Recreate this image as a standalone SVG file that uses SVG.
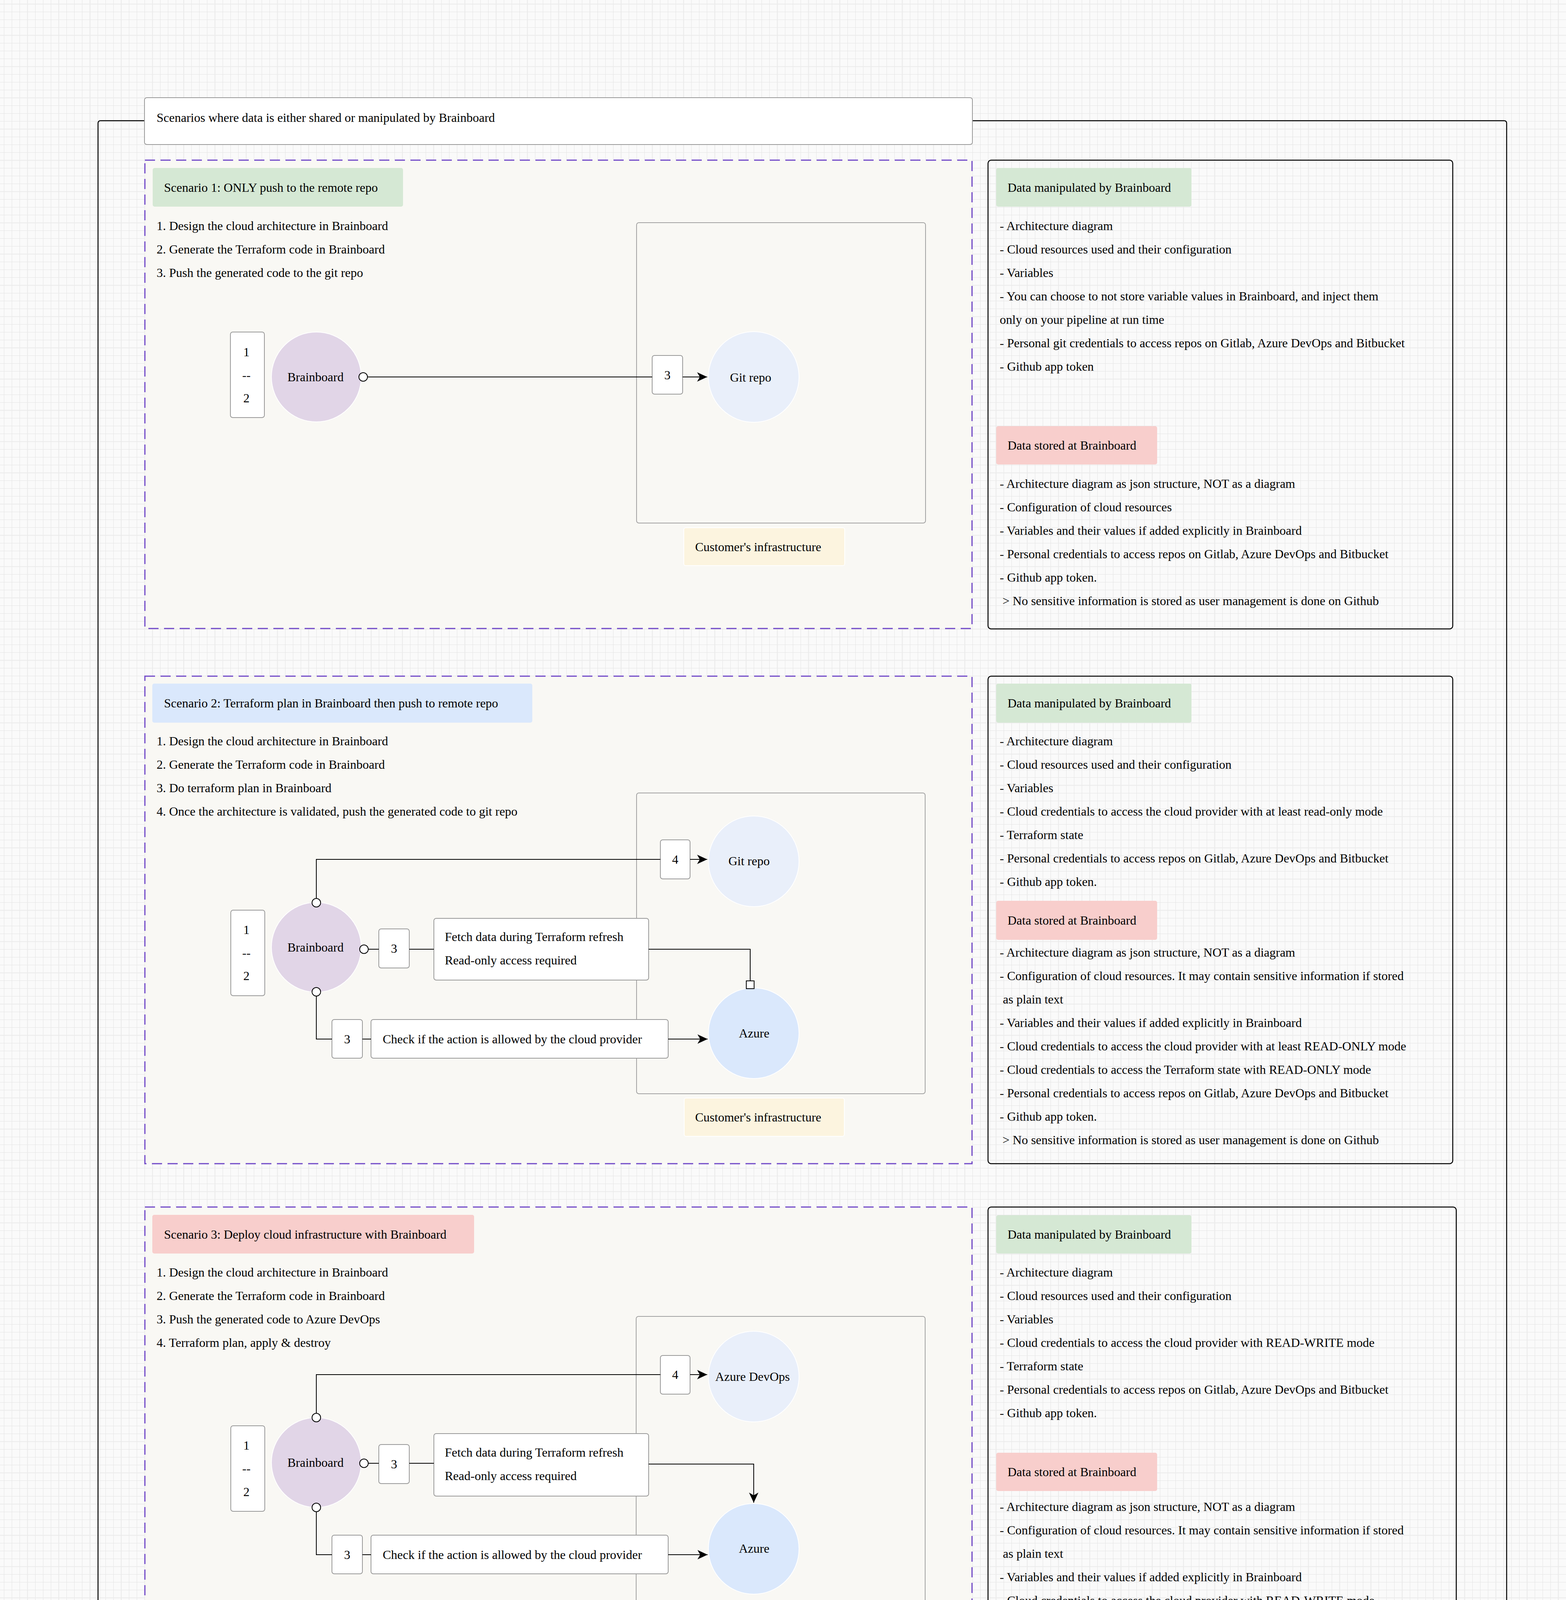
<svg xmlns="http://www.w3.org/2000/svg" width="4010" height="6610" viewBox="0 0 4010 6610">
<defs>
<pattern id="grid" patternUnits="userSpaceOnUse" x="0" y="0" width="80" height="80">
<rect width="80" height="80" fill="#fafafa"/>
<path d="M0,30.5H80M0,50.5H80M0,70.5H80M10.5,0V80M30.5,0V80M50.5,0V80" stroke="#e5e5e5" stroke-width="1" fill="none"/>
<path d="M0,10.5H80M70.5,0V80" stroke="#ebebeb" stroke-width="2.2" fill="none"/>
</pattern>
<marker id="arrow" markerUnits="userSpaceOnUse" viewBox="0 0 26 24" markerWidth="26" markerHeight="24" refX="26" refY="12" orient="auto">
<path d="M0,0 L26,12 L0,24 L7,12 Z" fill="#000"/>
</marker>
<marker id="oval" markerUnits="userSpaceOnUse" viewBox="0 0 26 26" markerWidth="26" markerHeight="26" refX="13" refY="13" orient="auto">
<circle cx="13" cy="13" r="11" fill="#fff" stroke="#000" stroke-width="2"/>
</marker>
<marker id="sq" markerUnits="userSpaceOnUse" viewBox="0 0 24 24" markerWidth="24" markerHeight="24" refX="1" refY="12" orient="auto">
<rect x="1" y="2" width="20" height="20" fill="#fff" stroke="#000" stroke-width="2"/>
</marker>
<style>
.t{font-family:"Liberation Serif","Times New Roman",serif;font-size:32px;fill:#000}
.c{text-anchor:middle}
.box{fill:#fff;stroke:#9a9a9a;stroke-width:2}
.panel{fill:none;stroke:#000;stroke-width:2.5}
.dash{fill:#f9f8f4;stroke:#7048c8;stroke-width:3;stroke-dasharray:26 14}
.infra{fill:none;stroke:#a3a3a3;stroke-width:2}
.cust{fill:#fcf4df;stroke:#fff;stroke-width:2}
.green{fill:#d5e8d4}
.blue{fill:#dae8fc}
.red{fill:#f8cecc}
.bb{fill:#e1d5e7;stroke:#fff;stroke-width:2}
.git{fill:#e9effa;stroke:#fff;stroke-width:2}
.az{fill:#dae8fc;stroke:#fff;stroke-width:2}
.edge{fill:none;stroke:#000;stroke-width:2}
.note{fill:none;stroke:#000;stroke-width:2}
</style>
</defs>
<rect x="0" y="0" width="4010" height="6610" fill="url(#grid)"/>

<!-- Outer container 1 -->
<g id="container-scenarios">
<rect x="251" y="309" width="3607" height="4148" rx="6" fill="none" stroke="#000" stroke-width="2.5"/>
<rect x="370" y="250" width="2120" height="120" rx="6" class="box"/>
<text x="401" y="312" class="t">Scenarios where data is either shared or manipulated by Brainboard</text>
</g>

<!-- Scenario 1 -->
<g id="scenario1">
<rect x="371" y="410" width="2118" height="1199" class="dash"/>
<rect x="391" y="430" width="641" height="99" rx="5" class="green"/>
<text x="420" y="491" class="t">Scenario 1: ONLY push to the remote repo</text>
<text x="401" y="589" class="t">1. Design the cloud architecture in Brainboard</text>
<text x="401" y="649" class="t">2. Generate the Terraform code in Brainboard</text>
<text x="401" y="709" class="t">3. Push the generated code to the git repo</text>
<rect x="1630" y="570" width="740" height="769" rx="6" class="infra"/>
<rect x="1751" y="1351" width="412" height="97" rx="5" class="cust"/>
<text x="1780" y="1411" class="t">Customer's infrastructure</text>
</g>
<g id="s1-stack"><rect x="590" y="850" width="87" height="219" rx="6" class="box"/>
<text x="631" y="912" class="t c">1</text><text x="631" y="971" class="t c">--</text><text x="631" y="1030" class="t c">2</text></g>
<g id="s1-brainboard"><circle cx="810" cy="965" r="115" class="bb"/><text x="808" y="976" class="t c">Brainboard</text></g>
<g id="s1-step3"><rect x="1670" y="910" width="78" height="99" rx="6" class="box"/><text x="1709" y="971" class="t c">3</text></g>
<g id="s1-gitrepo"><circle cx="1930" cy="965" r="116" class="git"/><text x="1922" y="977" class="t c">Git repo</text></g>

<!-- Scenario 2 -->
<g id="scenario2">
<rect x="371" y="1731" width="2118" height="1248" class="dash"/>
<rect x="390" y="1750" width="973" height="100" rx="5" class="blue"/>
<text x="420" y="1811" class="t">Scenario 2: Terraform plan in Brainboard then push to remote repo</text>
<text x="401" y="1908" class="t">1. Design the cloud architecture in Brainboard</text>
<text x="401" y="1968" class="t">2. Generate the Terraform code in Brainboard</text>
<text x="401" y="2028" class="t">3. Do terraform plan in Brainboard</text>
<text x="401" y="2088" class="t">4. Once the architecture is validated, push the generated code to git repo</text>
<rect x="1630" y="2030" width="739" height="770" rx="6" class="infra"/>
<rect x="1752" y="2811" width="410" height="98" rx="5" class="cust"/>
<text x="1780" y="2871" class="t">Customer's infrastructure</text>
</g>
<g id="s2-stack"><rect x="591" y="2330" width="87" height="219" rx="6" class="box"/>
<text x="631" y="2391" class="t c">1</text><text x="631" y="2450" class="t c">--</text><text x="631" y="2509" class="t c">2</text></g>
<g id="s2-brainboard"><circle cx="810" cy="2425" r="115" class="bb"/><text x="808" y="2436" class="t c">Brainboard</text></g>
<g id="s2-step4"><rect x="1691" y="2150" width="76" height="100" rx="6" class="box"/><text x="1729" y="2211" class="t c">4</text></g>
<g id="s2-gitrepo"><circle cx="1930" cy="2205" r="116" class="git"/><text x="1918" y="2215" class="t c">Git repo</text></g>
<g id="s2-step3a"><rect x="970" y="2378" width="78" height="100" rx="6" class="box"/><text x="1009" y="2439" class="t c">3</text></g>
<g id="s2-fetch"><rect x="1111" y="2351" width="550" height="158" rx="6" class="box"/>
<text x="1139" y="2409" class="t">Fetch data during Terraform refresh</text>
<text x="1139" y="2469" class="t">Read-only access required</text></g>
<g id="s2-step3b"><rect x="850" y="2610" width="78" height="99" rx="6" class="box"/><text x="889" y="2671" class="t c">3</text></g>
<g id="s2-check"><rect x="950" y="2610" width="761" height="99" rx="6" class="box"/>
<text x="980" y="2671" class="t">Check if the action is allowed by the cloud provider</text></g>
<g id="s2-azure"><circle cx="1930" cy="2645" r="116" class="az"/><text x="1931" y="2656" class="t c">Azure</text></g>

<!-- Scenario 3 -->
<g id="scenario3">
<rect x="371" y="3090" width="2118" height="1319" class="dash"/>
<rect x="390" y="3110" width="824" height="99" rx="5" class="red"/>
<text x="420" y="3171" class="t">Scenario 3: Deploy cloud infrastructure with Brainboard</text>
<text x="401" y="3268" class="t">1. Design the cloud architecture in Brainboard</text>
<text x="401" y="3328" class="t">2. Generate the Terraform code in Brainboard</text>
<text x="401" y="3388" class="t">3. Push the generated code to Azure DevOps</text>
<text x="401" y="3448" class="t">4. Terraform plan, apply &amp; destroy</text>
<rect x="1629" y="3370" width="740" height="769" rx="6" class="infra"/>
<rect x="1752" y="4151" width="410" height="97" rx="5" class="cust"/>
<text x="1780" y="4211" class="t">Customer's infrastructure</text>
</g>
<g id="s3-stack"><rect x="591" y="3650" width="87" height="219" rx="6" class="box"/>
<text x="631" y="3711" class="t c">1</text><text x="631" y="3770" class="t c">--</text><text x="631" y="3830" class="t c">2</text></g>
<g id="s3-brainboard"><circle cx="810" cy="3744" r="115" class="bb"/><text x="808" y="3755" class="t c">Brainboard</text></g>
<g id="s3-step4"><rect x="1691" y="3470" width="76" height="99" rx="6" class="box"/><text x="1729" y="3530" class="t c">4</text></g>
<g id="s3-azuredevops"><circle cx="1930" cy="3524" r="116" class="git"/><text x="1927" y="3535" class="t c">Azure DevOps</text></g>
<g id="s3-step3a"><rect x="970" y="3698" width="78" height="100" rx="6" class="box"/><text x="1009" y="3759" class="t c">3</text></g>
<g id="s3-fetch"><rect x="1111" y="3670" width="550" height="160" rx="6" class="box"/>
<text x="1139" y="3729" class="t">Fetch data during Terraform refresh</text>
<text x="1139" y="3789" class="t">Read-only access required</text></g>
<g id="s3-step3b"><rect x="850" y="3930" width="78" height="99" rx="6" class="box"/><text x="889" y="3991" class="t c">3</text></g>
<g id="s3-check"><rect x="950" y="3930" width="761" height="99" rx="6" class="box"/>
<text x="980" y="3991" class="t">Check if the action is allowed by the cloud provider</text></g>
<g id="s3-azure"><circle cx="1930" cy="3965" r="116" class="az"/><text x="1931" y="3975" class="t c">Azure</text></g>

<!-- Right panels -->
<g id="panel1">
<rect x="2530" y="410" width="1190" height="1200" rx="8" class="panel"/>
<rect x="2551" y="430" width="500" height="99" rx="5" class="green"/>
<text x="2580" y="491" class="t">Data manipulated by Brainboard</text>
<text x="2560" y="589" class="t">- Architecture diagram</text>
<text x="2560" y="649" class="t">- Cloud resources used and their configuration</text>
<text x="2560" y="709" class="t">- Variables</text>
<text x="2560" y="769" class="t">- You can choose to not store variable values in Brainboard, and inject them</text>
<text x="2560" y="829" class="t">only on your pipeline at run time</text>
<text x="2560" y="889" class="t">- Personal git credentials to access repos on Gitlab, Azure DevOps and Bitbucket</text>
<text x="2560" y="949" class="t">- Github app token</text>
<rect x="2551" y="1091" width="412" height="98" rx="5" class="red"/>
<text x="2580" y="1151" class="t">Data stored at Brainboard</text>
<text x="2560" y="1249" class="t">- Architecture diagram as json structure, NOT as a diagram</text>
<text x="2560" y="1309" class="t">- Configuration of cloud resources</text>
<text x="2560" y="1369" class="t">- Variables and their values if added explicitly in Brainboard</text>
<text x="2560" y="1429" class="t">- Personal credentials to access repos on Gitlab, Azure DevOps and Bitbucket</text>
<text x="2560" y="1489" class="t">- Github app token.</text>
<text x="2567" y="1549" class="t">&gt; No sensitive information is stored as user management is done on Github</text>
</g>
<g id="panel2">
<rect x="2530" y="1731" width="1190" height="1248" rx="8" class="panel"/>
<rect x="2551" y="1750" width="500" height="100" rx="5" class="green"/>
<text x="2580" y="1811" class="t">Data manipulated by Brainboard</text>
<text x="2560" y="1908" class="t">- Architecture diagram</text>
<text x="2560" y="1968" class="t">- Cloud resources used and their configuration</text>
<text x="2560" y="2028" class="t">- Variables</text>
<text x="2560" y="2088" class="t">- Cloud credentials to access the cloud provider with at least read-only mode</text>
<text x="2560" y="2148" class="t">- Terraform state</text>
<text x="2560" y="2208" class="t">- Personal credentials to access repos on Gitlab, Azure DevOps and Bitbucket</text>
<text x="2560" y="2268" class="t">- Github app token.</text>
<rect x="2551" y="2306" width="412" height="100" rx="5" class="red"/>
<text x="2580" y="2367" class="t">Data stored at Brainboard</text>
<text x="2560" y="2449" class="t">- Architecture diagram as json structure, NOT as a diagram</text>
<text x="2560" y="2509" class="t">- Configuration of cloud resources. It may contain sensitive information if stored</text>
<text x="2568" y="2569" class="t">as plain text</text>
<text x="2560" y="2629" class="t">- Variables and their values if added explicitly in Brainboard</text>
<text x="2560" y="2689" class="t">- Cloud credentials to access the cloud provider with at least READ-ONLY mode</text>
<text x="2560" y="2749" class="t">- Cloud credentials to access the Terraform state with READ-ONLY mode</text>
<text x="2560" y="2809" class="t">- Personal credentials to access repos on Gitlab, Azure DevOps and Bitbucket</text>
<text x="2560" y="2869" class="t">- Github app token.</text>
<text x="2567" y="2929" class="t">&gt; No sensitive information is stored as user management is done on Github</text>
</g>
<g id="panel3">
<rect x="2530" y="3090" width="1199" height="1319" rx="8" class="panel"/>
<rect x="2551" y="3111" width="500" height="98" rx="5" class="green"/>
<text x="2580" y="3171" class="t">Data manipulated by Brainboard</text>
<text x="2560" y="3268" class="t">- Architecture diagram</text>
<text x="2560" y="3328" class="t">- Cloud resources used and their configuration</text>
<text x="2560" y="3388" class="t">- Variables</text>
<text x="2560" y="3448" class="t">- Cloud credentials to access the cloud provider with READ-WRITE mode</text>
<text x="2560" y="3508" class="t">- Terraform state</text>
<text x="2560" y="3568" class="t">- Personal credentials to access repos on Gitlab, Azure DevOps and Bitbucket</text>
<text x="2560" y="3628" class="t">- Github app token.</text>
<rect x="2551" y="3719" width="412" height="98" rx="5" class="red"/>
<text x="2580" y="3779" class="t">Data stored at Brainboard</text>
<text x="2560" y="3868" class="t">- Architecture diagram as json structure, NOT as a diagram</text>
<text x="2560" y="3928" class="t">- Configuration of cloud resources. It may contain sensitive information if stored</text>
<text x="2568" y="3988" class="t">as plain text</text>
<text x="2560" y="4048" class="t">- Variables and their values if added explicitly in Brainboard</text>
<text x="2560" y="4108" class="t">- Cloud credentials to access the cloud provider with READ-WRITE mode</text>
<text x="2560" y="4168" class="t">- Cloud credentials to access the Terraform state with READ-WRITE mode</text>
<text x="2560" y="4228" class="t">- Personal credentials to access repos on Gitlab, Azure DevOps and Bitbucket</text>
<text x="2560" y="4288" class="t">- Github app token.</text>
<text x="2567" y="4348" class="t">&gt; No sensitive information is stored as user management is done on Github</text>
</g>

<!-- Venn section -->
<g id="container-overview">
<rect x="611" y="4570" width="2788" height="1890" rx="8" fill="none" stroke="#000" stroke-width="2.5"/>
<rect x="1391" y="4522" width="1290" height="99" rx="6" class="box"/>
<text x="1420" y="4583" class="t">Overview of context intersection when data is either shared or manipulated by Brainboard</text>
</g>
<g id="venn-gitrepo"><circle cx="2060" cy="5045" r="391" fill="#dae8fc" fill-opacity="0.55" stroke="#fff" stroke-opacity="0.7" stroke-width="3"/></g>
<g id="venn-azure"><circle cx="2100" cy="6005" r="391" fill="#dae8fc" stroke="#fff" stroke-width="3"/></g>
<g id="venn-tfstate"><rect x="1851" y="5443" width="568" height="167" fill="#d5e8d4" fill-opacity="0.6" stroke="#fff" stroke-opacity="0.6" stroke-width="2"/></g>
<g id="venn-brainboard"><circle cx="1640" cy="5543" r="391" fill="rgb(106,50,183)" fill-opacity="0.18" stroke="#fff" stroke-width="3"/></g>
<g id="venn-labels">
<text x="2052" y="5051" class="t c">Git repo</text>
<text x="1611" y="5549" class="t c">Brainboard</text>
<text x="2099" y="6029" class="t c">Azure</text>
<text x="2044" y="5542" class="t">Terraform state storage</text>
</g>
<g id="note-terraform-code"><rect x="1230" y="4770" width="330" height="160" rx="6" class="note"/>
<text x="1259" y="4828" class="t">Terraform code</text><text x="1259" y="4888" class="t">Git repo credentials</text></g>
<g id="note-tfstate"><rect x="2410" y="5250" width="456" height="159" rx="6" class="note"/>
<text x="2440" y="5310" class="t">Terraform state manipulation</text><text x="2440" y="5370" class="t">Remote backend access</text></g>
<g id="note-cloud"><rect x="1151" y="6009" width="510" height="160" rx="6" class="note"/>
<text x="1180" y="6068" class="t">Cloud infrastructure provisioning</text><text x="1180" y="6128" class="t">Azure credentials</text></g>

<!-- Connectors -->
<g id="connectors" class="edge">
<path class="edge" d="M930,965 L1670,965" marker-start="url(#oval)"/>
<path class="edge" d="M1748,965 L1811,965" marker-end="url(#arrow)"/>

<path class="edge" d="M810,2311 L810,2200 L1691,2200" marker-start="url(#oval)"/>
<path class="edge" d="M1767,2200 L1811,2200" marker-end="url(#arrow)"/>
<path class="edge" d="M932,2430 L970,2430" marker-start="url(#oval)"/>
<path class="edge" d="M1048,2430 L1111,2430"/>
<path class="edge" d="M1661,2430 L1921,2430 L1921,2511" marker-end="url(#sq)"/>
<path class="edge" d="M810,2539 L810,2660 L850,2660" marker-start="url(#oval)"/>
<path class="edge" d="M928,2660 L950,2660"/>
<path class="edge" d="M1711,2660 L1812,2660" marker-end="url(#arrow)"/>

<path class="edge" d="M810,3629 L810,3519 L1691,3519" marker-start="url(#oval)"/>
<path class="edge" d="M1767,3519 L1811,3519" marker-end="url(#arrow)"/>
<path class="edge" d="M932,3746 L970,3746" marker-start="url(#oval)"/>
<path class="edge" d="M1048,3746 L1111,3746"/>
<path class="edge" d="M1661,3748 L1930,3748 L1930,3847" marker-end="url(#arrow)"/>
<path class="edge" d="M810,3859 L810,3980 L850,3980" marker-start="url(#oval)"/>
<path class="edge" d="M928,3980 L950,3980"/>
<path class="edge" d="M1711,3980 L1812,3980" marker-end="url(#arrow)"/>

<path class="edge" d="M1470,4930 L1818,5267" marker-start="url(#oval)" marker-end="url(#arrow)"/>
<path class="edge" d="M2410,5339 C2330,5350 2270,5385 2197,5436 C2120,5490 2010,5520 1918,5531" marker-start="url(#oval)" marker-end="url(#arrow)"/>
<path class="edge" d="M1661,6009 L1858,5791" marker-start="url(#oval)" marker-end="url(#arrow)"/>
</g>
</svg>
